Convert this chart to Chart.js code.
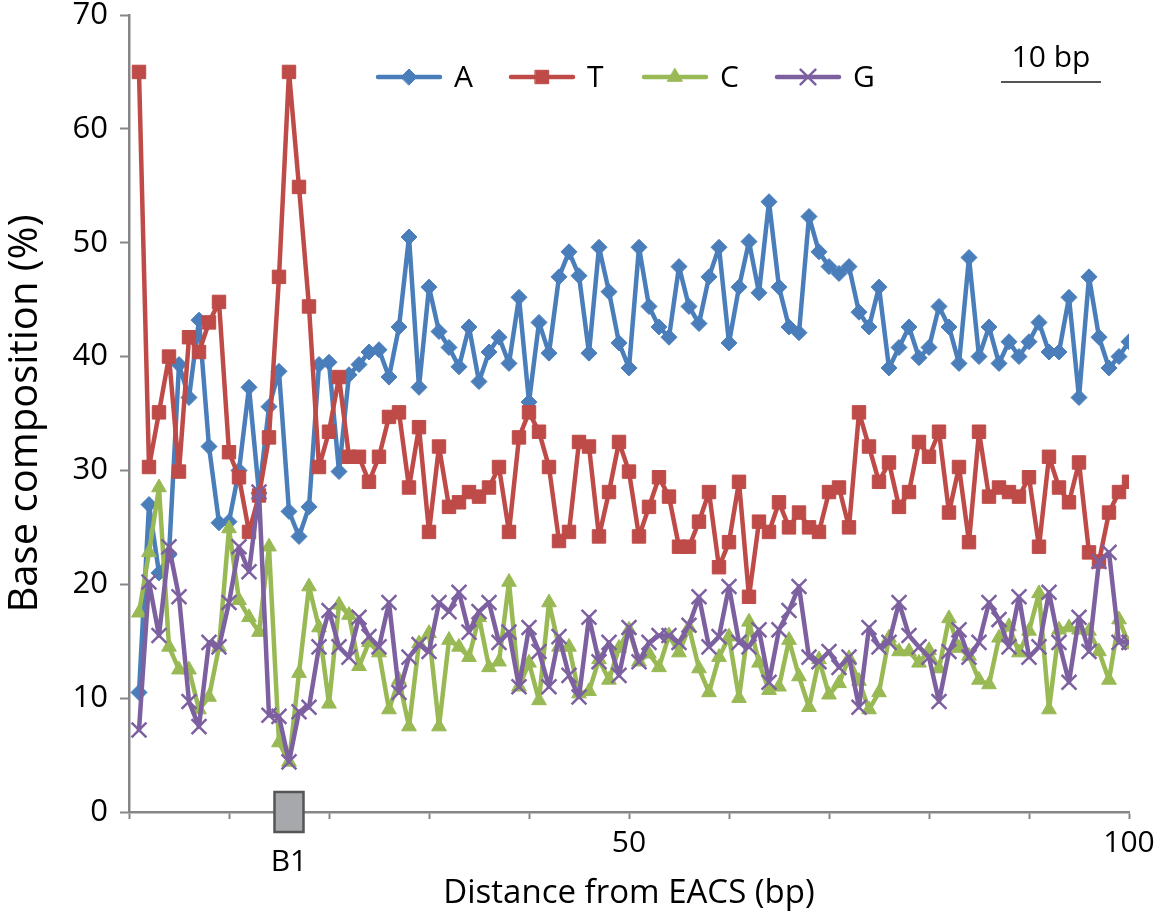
<!DOCTYPE html>
<html>
<head>
<meta charset="utf-8">
<script src="https://cdn.jsdelivr.net/npm/chart.js@4.4.1/dist/chart.umd.min.js"></script>
<style>
  html, body { margin: 0; padding: 0; background: #fff; }
  #wrap { width: 1156px; height: 914px; }
</style>
</head>
<body>
<div id="wrap"><canvas id="chart" width="1156" height="914"></canvas></div>
<script>
// -------------------- DATA --------------------
const positions = [1, 2, 3, 4, 5, 6, 7, 8, 9, 10, 11, 12, 13, 14, 15, 16, 17, 18, 19, 20,
  21, 22, 23, 24, 25, 26, 27, 28, 29, 30, 31, 32, 33, 34, 35, 36, 37, 38, 39, 40,
  41, 42, 43, 44, 45, 46, 47, 48, 49, 50, 51, 52, 53, 54, 55, 56, 57, 58, 59, 60,
  61, 62, 63, 64, 65, 66, 67, 68, 69, 70, 71, 72, 73, 74, 75, 76, 77, 78, 79, 80,
  81, 82, 83, 84, 85, 86, 87, 88, 89, 90, 91, 92, 93, 94, 95, 96, 97, 98, 99, 100];

const baseA = [10.5, 27.0, 21.0, 22.6, 39.3, 36.4, 43.2, 32.1, 25.4, 25.5,
  30.0, 37.3, 28.0, 35.6, 38.7, 26.4, 24.2, 26.8, 39.3, 39.5,
  29.9, 38.4, 39.3, 40.4, 40.6, 38.2, 42.6, 50.5, 37.3, 46.1,
  42.2, 40.8, 39.1, 42.6, 37.8, 40.4, 41.7, 39.4, 45.2, 36.0,
  43.0, 40.3, 47.0, 49.2, 47.1, 40.3, 49.6, 45.7, 41.2, 39.0,
  49.6, 44.4, 42.6, 41.7, 47.9, 44.4, 42.9, 47.0, 49.6, 41.2,
  46.1, 50.1, 45.6, 53.6, 46.1, 42.6, 42.1, 52.3, 49.2, 47.9,
  47.3, 47.9, 43.9, 42.6, 46.1, 39.0, 40.8, 42.6, 39.9, 40.8,
  44.4, 42.6, 39.4, 48.7, 40.0, 42.6, 39.4, 41.3, 40.0, 41.3,
  43.0, 40.4, 40.4, 45.2, 36.4, 47.0, 41.7, 39.0, 40.0, 41.3];

const baseT = [65.0, 30.3, 35.1, 40.0, 29.9, 41.7, 40.4, 43.0, 44.8, 31.6,
  29.4, 24.6, 27.8, 32.9, 47.0, 65.0, 54.9, 44.4, 30.3, 33.4,
  38.2, 31.2, 31.2, 29.0, 31.2, 34.7, 35.1, 28.5, 33.8, 24.6,
  32.1, 26.8, 27.2, 28.1, 27.7, 28.5, 30.3, 24.6, 32.9, 35.1,
  33.4, 30.3, 23.8, 24.6, 32.5, 32.1, 24.2, 28.1, 32.5, 29.9,
  24.2, 26.8, 29.4, 27.7, 23.3, 23.3, 25.5, 28.1, 21.5, 23.7,
  29.0, 18.9, 25.5, 24.6, 27.2, 25.0, 26.3, 25.0, 24.6, 28.1,
  28.5, 25.0, 35.1, 32.1, 29.0, 30.7, 26.8, 28.1, 32.5, 31.2,
  33.4, 26.3, 30.3, 23.7, 33.4, 27.7, 28.5, 28.1, 27.7, 29.4,
  23.3, 31.2, 28.5, 27.2, 30.7, 22.8, 22.0, 26.3, 28.1, 29.0];

const baseC = [17.5, 22.8, 28.5, 14.5, 12.5, 12.5, 9.0, 10.1, 14.5, 24.9,
  18.6, 17.1, 15.8, 23.3, 6.1, 4.4, 12.2, 19.8, 16.2, 9.5,
  18.2, 17.3, 12.8, 14.9, 14.0, 9.0, 11.6, 7.5, 14.8, 15.7,
  7.5, 15.1, 14.5, 13.6, 17.1, 12.7, 13.2, 20.2, 11.0, 13.1,
  9.8, 18.4, 14.5, 14.5, 10.4, 10.6, 13.4, 11.6, 14.4, 16.0,
  13.2, 13.9, 12.7, 15.5, 14.0, 16.2, 12.6, 10.5, 13.6, 15.4,
  10.0, 16.7, 13.1, 10.7, 11.0, 15.1, 11.9, 9.2, 13.4, 10.3,
  11.3, 13.5, 11.5, 9.0, 10.5, 15.3, 14.1, 14.1, 13.1, 14.2,
  12.6, 17.0, 14.4, 13.7, 11.6, 11.2, 15.3, 16.3, 14.0, 15.9,
  19.2, 9.0, 16.0, 16.2, 16.0, 15.9, 14.1, 11.6, 16.9, 14.7];

const baseG = [7.2, 20.2, 15.5, 23.3, 18.9, 9.7, 7.5, 14.9, 14.5, 18.4,
  23.3, 21.1, 28.1, 8.5, 8.4, 4.4, 8.8, 9.2, 14.5, 17.7,
  14.5, 13.6, 17.1, 15.4, 14.5, 18.4, 10.5, 13.6, 14.7, 14.1,
  18.4, 17.6, 19.3, 15.8, 17.6, 18.4, 14.9, 15.8, 11.0, 16.2,
  14.1, 11.0, 15.4, 12.0, 10.1, 17.1, 13.2, 14.9, 12.0, 16.2,
  13.2, 14.9, 15.5, 15.5, 14.9, 16.4, 18.9, 14.5, 15.4, 19.8,
  14.9, 14.5, 16.0, 11.4, 16.0, 17.7, 19.8, 13.6, 13.2, 14.1,
  12.7, 13.6, 9.2, 16.2, 14.5, 14.9, 18.4, 15.5, 14.5, 13.6,
  9.7, 14.1, 16.0, 13.6, 14.9, 18.4, 16.9, 14.5, 18.9, 13.6,
  14.5, 19.3, 14.9, 11.4, 17.1, 14.1, 22.0, 22.8, 14.9, 14.9];

const xTickLabels = [50, 100];
const boxLabel = "B1";
const boxPosition = 16;
const scaleBarLength = 10;

// -------------------- STYLE --------------------
const FONT = "'Open Sans', 'Liberation Sans', sans-serif";
const AXIS_GREY = "#868686";

function series(label, values, color, style, radius, order) {
  return {
    label: label,
    data: values,
    borderColor: color,
    backgroundColor: color,
    borderWidth: 4.5,
    borderJoinStyle: "round",
    borderCapStyle: "round",
    pointStyle: style,
    pointRadius: radius,
    pointHoverRadius: radius,
    pointBorderWidth: style === "crossRot" ? 2.5 : 1,
    pointBackgroundColor: color,
    pointBorderColor: color,
    tension: 0,
    order: order
  };
}

// legend drawn inside the plot (line + marker + letter)
const innerLegend = {
  id: "innerLegend",
  afterDraw(chart) {
    const ctx = chart.ctx;
    const y = 77;
    let x = 378;
    ctx.save();
    chart.data.datasets.forEach(ds => {
      ctx.strokeStyle = ds.borderColor;
      ctx.lineWidth = 4.5;
      ctx.lineCap = "round";
      ctx.beginPath();
      ctx.moveTo(x, y);
      ctx.lineTo(x + 62, y);
      ctx.stroke();
      ctx.fillStyle = ds.backgroundColor;
      ctx.lineWidth = ds.pointBorderWidth;
      Chart.helpers.drawPoint(ctx, {
        pointStyle: ds.pointStyle,
        radius: ds.pointRadius,
        rotation: 0,
        borderWidth: ds.pointBorderWidth
      }, x + 31, y);
      ctx.fillStyle = "#000";
      ctx.font = "30px " + FONT;
      ctx.textAlign = "left";
      ctx.textBaseline = "middle";
      ctx.fillText(ds.label, x + 76, y + 1);
      x += 133;
    });
    ctx.restore();
  }
};

// B1 box on the x axis and the 10 bp scale bar
const extras = {
  id: "extras",
  afterDraw(chart) {
    const ctx = chart.ctx;
    const xs = chart.scales.x;
    const axisY = chart.chartArea.bottom;
    const bx = xs.getPixelForValue(boxPosition);
    ctx.save();
    ctx.fillStyle = "#a7a8ab";
    ctx.strokeStyle = "#555";
    ctx.lineWidth = 2.5;
    ctx.fillRect(bx - 14.5, axisY - 20, 29, 40);
    ctx.strokeRect(bx - 14.5, axisY - 20, 29, 40);
    ctx.fillStyle = "#000";
    ctx.font = "30px " + FONT;
    ctx.textAlign = "center";
    ctx.textBaseline = "middle";
    ctx.fillText(boxLabel, bx, axisY + 50);

    const barW = xs.getPixelForValue(scaleBarLength) - xs.getPixelForValue(0);
    const barX = 1001;
    ctx.strokeStyle = "#555";
    ctx.lineWidth = 2;
    ctx.beginPath();
    ctx.moveTo(barX, 82);
    ctx.lineTo(barX + barW, 82);
    ctx.stroke();
    ctx.fillText(scaleBarLength + " bp", barX + barW / 2, 58);
    ctx.restore();
  }
};

new Chart(document.getElementById("chart"), {
  type: "line",
  data: {
    labels: positions,
    datasets: [
      series("A", baseA, "#4a7ebb", "rectRot", 8, 4),
      series("T", baseT, "#be4b48", "rect", 9.5, 3),
      series("C", baseC, "#98b954", "triangle", 8.5, 2),
      series("G", baseG, "#7d60a0", "crossRot", 10.5, 1)
    ]
  },
  options: {
    responsive: false,
    animation: false,
    events: [],
    layout: { padding: { top: 15, right: 27, left: 0, bottom: 0 } },
    plugins: {
      legend: { display: false },
      tooltip: { enabled: false }
    },
    scales: {
      x: {
        type: "linear",
        min: 0,
        max: 100,
        afterFit: s => {
          s.height = 102;
          s.paddingLeft = 0;
          s.paddingRight = 0;
        },
        ticks: {
          stepSize: 10,
          autoSkip: false,
          maxRotation: 0,
          padding: 9,
          color: "#000",
          font: { family: FONT, size: 30, lineHeight: 1 },
          callback: v => xTickLabels.includes(v) ? String(v) : ""
        },
        grid: {
          drawOnChartArea: false,
          tickLength: 7,
          tickWidth: 2,
          tickColor: AXIS_GREY
        },
        border: { color: AXIS_GREY, width: 2.5 },
        title: {
          display: true,
          text: "Distance from EACS (bp)",
          color: "#000",
          font: { family: FONT, size: 33 },
          padding: { top: 0, bottom: 1 }
        }
      },
      y: {
        min: 0,
        max: 70,
        afterFit: s => {
          s.width = 129;
          s.paddingTop = 0;
          s.paddingBottom = 0;
        },
        ticks: {
          stepSize: 10,
          padding: 12,
          color: "#000",
          font: { family: FONT, size: 31, lineHeight: 1 }
        },
        grid: {
          drawOnChartArea: false,
          tickLength: 9,
          tickWidth: 2,
          tickColor: AXIS_GREY
        },
        border: { color: AXIS_GREY, width: 2.5 },
        title: {
          display: true,
          text: "Base composition (%)",
          color: "#000",
          font: { family: FONT, size: 40 },
          padding: { top: 2, bottom: 0 }
        }
      }
    }
  },
  plugins: [innerLegend, extras]
});
</script>
</body>
</html>
